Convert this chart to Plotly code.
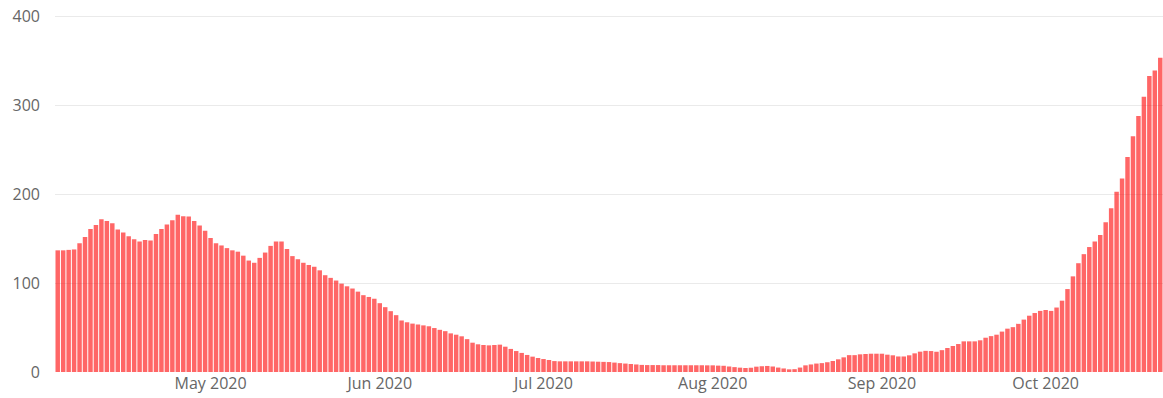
import pandas as pd
import plotly.graph_objects as go

start_date = "2020-04-03"

# daily values (Apr 3 - Oct 22, 2020)
apr_may = [137, 137, 137.5, 138, 145, 152, 161, 165.5, 172, 170, 167.5, 160.5,
           157, 153, 149.5, 147, 148.5, 148, 155.5, 161, 166, 171, 177, 175.5,
           175, 170, 165, 159, 151,
           145, 142.5, 139.5, 137, 135.5, 131, 125.5, 123, 128.5, 134.5, 142, 147,
           147, 138.5, 130.5, 127, 123, 120.5, 118.5, 114.5, 109, 106, 103, 99.5,
           96.5, 94, 90.5, 86.5, 84.5, 82.5]
jun = [77.5, 73, 68.5, 64,
       58, 56, 54.5, 53.5, 52.5, 51.5, 49.5, 47.5, 46, 43.5, 42, 40.2, 37, 33,
       31.2, 30.4, 30, 30.4, 30.8, 28.5, 26, 23.6,
       21.5, 19.2, 17.3, 15.8]
jul_aug = [14.6, 13.5, 12.3, 12, 12, 12, 12, 12, 12, 11.8, 11.6, 11.4, 11.2,
           10.6, 10, 9.5, 9, 8.5, 8,
           7.8, 7.8, 7.8, 7.6, 7.6, 7.6, 7.6, 7.6, 7.6, 7.6, 7.6, 7.5, 7.5, 7.2, 7,
           6.2, 5.5, 4.9, 4.5, 4.8, 6, 6.5, 6.8, 6.2, 5, 4, 3, 3.2, 5, 7.5,
           8.5, 9.5, 10, 11]
sep_oct = [12.4, 14.3, 16.5, 19, 19, 19.9, 20.3, 20.6, 20.6, 20.6,
           19.5, 18.8, 17.5, 17.5, 18.8, 21, 22.9, 23.8, 23.6, 22.8,
           24.6, 27, 29.3, 31.5, 34.5, 34.5, 34.5, 35.7, 38.6, 40.4,
           42, 45.5, 48.8, 50.5, 54.2, 59, 63.4, 66.4, 68.8, 69.8,
           68.8, 72.6, 80.3, 93.4, 107.7, 122.5, 132.7, 140.7, 146.9, 154.3,
           168.6, 184.3, 203, 218, 242, 265.4, 288.3, 310, 333.3, 339.4, 353.8]

values = apr_may + jun + jul_aug + sep_oct
dates = pd.date_range(start_date, periods=len(values), freq="D")

y_ticks = [0, 100, 200, 300, 400]

fig = go.Figure(go.Bar(
    x=dates,
    y=values,
    marker=dict(color="rgba(255,0,0,0.6)", line=dict(width=0)),
))

fig.update_layout(
    width=1163,
    height=398,
    margin=dict(l=55, r=0, t=15, b=26),
    paper_bgcolor="white",
    plot_bgcolor="white",
    bargap=0.18,
    showlegend=False,
    font=dict(family="Open Sans, sans-serif", size=16, color="#666"),
)
fig.update_xaxes(
    tickformat="%b %Y",
    dtick="M1",
    tick0="2020-05-01",
    showgrid=False,
    showline=False,
    ticks="",
)
# a little headroom so the 400 gridline is drawn inside the plot
fig.update_yaxes(
    range=[0, 402],
    tickvals=y_ticks,
    gridcolor="#eaeaea",
    gridwidth=1,
    zeroline=False,
    ticks="",
    ticklabelstandoff=14,
)

# drop the default body margin so the figure sits at the window's top-left
fig.write_html(
    "out.html",
    config={"displayModeBar": False},
    post_script="document.body.style.margin='0';document.body.style.overflow='hidden';",
)
